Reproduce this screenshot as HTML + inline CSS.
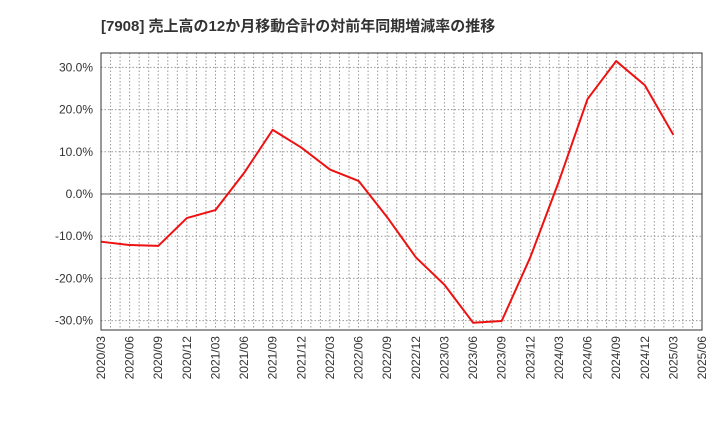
<!DOCTYPE html>
<html><head><meta charset="utf-8"><style>
body{margin:0;background:#fff;}
text{font-family:"Liberation Sans","Noto Sans CJK JP",sans-serif;}
</style></head><body>
<svg id="chart" width="720" height="440" xmlns="http://www.w3.org/2000/svg">
<text x="101" y="31" font-size="15" font-weight="bold" fill="#333">[7908]  売上高の12か月移動合計の対前年同期増減率の推移</text>
<g id="grid"></g><g id="axes"></g><g id="series"></g>
<rect x="101" y="53" width="601" height="277" fill="none" stroke="#333" stroke-width="1"/>
</svg>
<script>
const categories=["2020/03","2020/06","2020/09","2020/12","2021/03","2021/06","2021/09","2021/12","2022/03","2022/06","2022/09","2022/12","2023/03","2023/06","2023/09","2023/12","2024/03","2024/06","2024/09","2024/12","2025/03","2025/06"];
const values=[-11.3,-12.1,-12.3,-5.7,-3.8,5.0,15.2,11.0,5.8,3.1,-5.5,-15.0,-21.5,-30.5,-30.1,-15.0,3.0,22.5,31.5,25.8,14.0];
const yTicks=[30,20,10,0,-10,-20,-30];
const NS="http://www.w3.org/2000/svg";
const x0=101,x1=702,yTop=53,yBot=330;
function xs(i){return x0+(x1-x0)*i/(categories.length-1);}
function ys(v){return 194-v*4.22;}
function mk(t,a,p){const e=document.createElementNS(NS,t);for(const k in a)e.setAttribute(k,a[k]);p.appendChild(e);return e;}
const grid=document.getElementById('grid'),axes=document.getElementById('axes'),series=document.getElementById('series');
for(let m=1;m<(categories.length-1)*3;m++){
  const x=x0+(x1-x0)*m/((categories.length-1)*3);
  const l=mk('line',{x1:x,x2:x,y1:yTop,y2:yBot,stroke:'#999','stroke-dasharray':'1.5,2','stroke-width':1},grid);
  
  
}
yTicks.forEach(v=>{
  const y=ys(v);
  const l=mk('line',{x1:x0,x2:x1,y1:y,y2:y,stroke:v===0?'#555':'#999','stroke-dasharray':v===0?'none':'1.5,2','stroke-width':1},grid);
  
  
  const t=mk('text',{x:x0-8,y:y+4,'text-anchor':'end','font-size':12,fill:'#333'},axes);
  t.textContent=v.toFixed(1)+'%';
  
  
});
categories.forEach((c,i)=>{
  const x=xs(i);
  const t=mk('text',{x:0,y:0,'text-anchor':'end','font-size':12,fill:'#333',transform:`translate(${x+4},${yBot+6}) rotate(-90)`},axes);
  t.textContent=c;
  
  
});
const p=mk('polyline',{points:values.map((v,i)=>xs(i)+','+ys(v)).join(' '),fill:'none',stroke:'#ee1111','stroke-width':2,'stroke-linejoin':'round'},series);


</script>
</body></html>
